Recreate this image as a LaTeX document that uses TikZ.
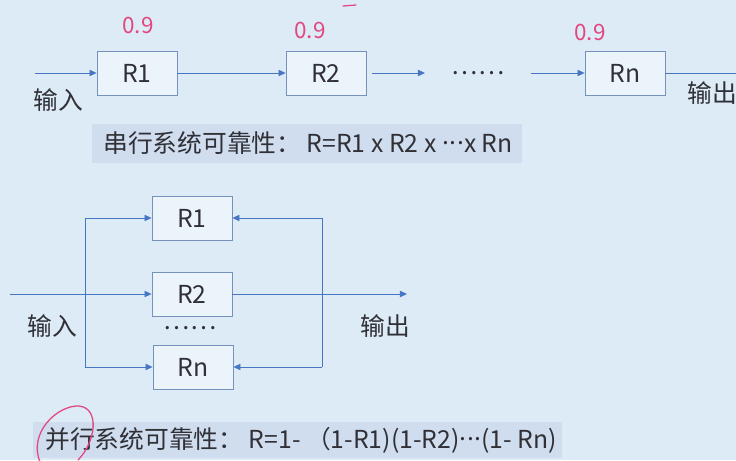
\documentclass[tikz,border=0pt]{standalone}
\usepackage{fontspec}
\setmainfont{Noto Sans CJK SC}
\usepackage{tikz}
\usetikzlibrary{arrows.meta}
\definecolor{bgblue}{RGB}{221,235,247}
\definecolor{bandblue}{RGB}{207,221,238}
\definecolor{lineblue}{RGB}{70,118,196}
\definecolor{boxedge}{RGB}{118,146,188}
\definecolor{inkpink}{RGB}{226,72,128}
\definecolor{txt}{RGB}{48,48,54}
\newcommand{\midots}{\raisebox{0.32em}{.\kern0.5pt.\kern0.5pt.}}
\tikzset{
  rbox/.style={draw=boxedge, line width=0.6pt, fill=bgblue!55!white, minimum width=2cm, minimum height=1.1cm, inner sep=0pt, text=txt, font=\fontsize{17.6}{20}\selectfont},
  link/.style={draw=lineblue, line width=0.6pt, -{Triangle[length=5pt,width=4.5pt]}},
  wire/.style={draw=lineblue, line width=0.6pt},
  tag/.style={text=txt, inner sep=0pt, font=\fontsize{17.6}{20}\selectfont},
  ink/.style={text=inkpink, inner sep=0pt, font=\fontsize{16}{18}\selectfont},
  scrawl/.style={draw=inkpink, line width=0.9pt, line cap=round}
}

\begin{document}
\begin{tikzpicture}[x=0.025cm, y=-0.025cm]
    \useasboundingbox (0,0) rectangle (736,460);
    \fill[bgblue] (0,0) rectangle (736,460);

    % serial system
    \node[rbox] (s1) at (137,73) {R1};
    \node[rbox] (s2) at (326,73) {R2};
    \node[rbox] (sn) at (625,73) {Rn};
    \coordinate (sin) at (35,73); \coordinate (sout) at (736,73);
    \coordinate (sa) at (372,73); \coordinate (sb) at (425,73); \coordinate (sc) at (531,73);
    \draw[link] (sin) -- (s1); \draw[link] (s1) -- (s2); \draw[link] (sa) -- (sb); \draw[link] (sc) -- (sn); \draw[wire] (sn) -- (sout);
    \node[tag] (sdots) at (478,73) {……};
    \node[tag] (sinlbl) at (58,100) {输入};
    \node[tag] (soutlbl) at (712,93) {输出};
    \fill[bandblue] (92,124) rectangle (522,163);
    \node[tag, anchor=west] (sformula) at (103,143) {串行系统可靠性： R=R1 x R2 x \midots x Rn};

    % parallel system
    \node[rbox] (p1) at (192,218) {R1};
    \node[rbox] (p2) at (192,294) {R2};
    \node[rbox] (pn) at (193,367) {Rn};
    \node[tag] (pdots) at (190,328) {……};
    \coordinate (pin) at (10,294); \coordinate (pout) at (407,294);
    \coordinate (lt) at (85,218); \coordinate (lb) at (85,367);
    \coordinate (rt) at (322,218); \coordinate (rb) at (322,367);
    \draw[wire] (lt) -- (lb); \draw[wire] (rt) -- (rb);
    \draw[link] (lt) -- (p1); \draw[link] (lb) -- (pn);
    \draw[link] (rt) -- (p1); \draw[link] (rb) -- (pn);
    \draw[link] (pin) -- (p2); \draw[link] (p2) -- (pout);
    \node[tag] (pinlbl) at (52,326) {输入};
    \node[tag] (poutlbl) at (385,326) {输出};
    \fill[bandblue] (33,422) rectangle (562,458);
    \node[tag, anchor=west] (pformula) at (45,440) {并行系统可靠性： R=1- （1-R1)(1-R2)\midots(1- Rn)};

    % handwritten marks
    \node[ink] (s1mark) at (138,25) {0.9};
    \node[ink] (s2mark) at (310,30) {0.9};
    \node[ink] (snmark) at (590,32) {0.9};
    \draw[scrawl] (343,6) -- (356,5);
    \draw[scrawl] (40,462) .. controls (28,432) and (58,405) .. (79,406) .. controls (100,408) and (96,442) .. (78,460);
\end{tikzpicture}
\end{document}
